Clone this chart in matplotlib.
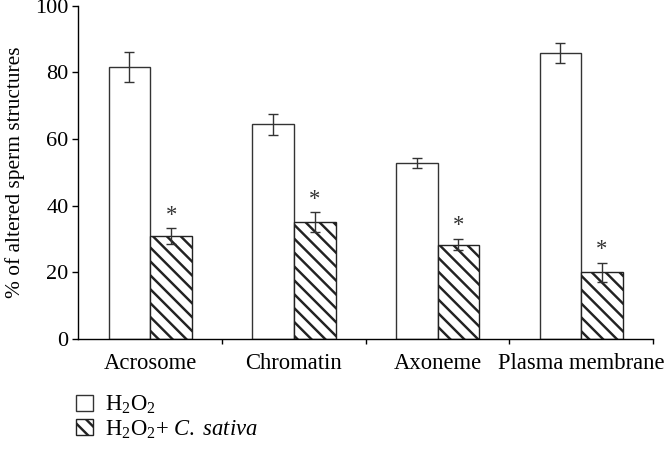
import numpy as np
import matplotlib
matplotlib.use("Agg")
import matplotlib.pyplot as plt
from matplotlib.patches import Patch

# %%
categories = ["Acrosome", "Chromatin", "Axoneme", "Plasma membrane"]
h2o2 = [81.7, 64.4, 52.7, 85.8]
h2o2_err = [4.5, 3.1, 1.5, 3.0]
sativa = [30.9, 35.0, 28.3, 20.0]
sativa_err = [2.3, 3.0, 1.7, 2.9]
labels = [r"H$_2$O$_2$", r"H$_2$O$_2$+ $\mathit{C.\ sativa}$"]

plt.rcParams["font.family"] = "Liberation Serif"
plt.rcParams["mathtext.fontset"] = "custom"
plt.rcParams["mathtext.rm"] = "Liberation Serif"
plt.rcParams["mathtext.it"] = "Liberation Serif:italic"
plt.rcParams["hatch.linewidth"] = 1.4
plt.rcParams["axes.linewidth"] = 0.8

# %%
# dpi 125 so the hatch cell gives about 7 px stripe spacing
fig = plt.figure(figsize=(5.32, 3.6), dpi=125)
ax = fig.add_axes([0.118, 0.247, 0.864, 0.74])

x = np.arange(len(categories))
w = 0.29
ax.bar(x - w / 2, h2o2, w, color="white", edgecolor="#333333", linewidth=0.8, zorder=2)
ax.bar(x + w / 2, sativa, w, color="white", edgecolor="#222222", hatch="\\\\\\", linewidth=0.8, zorder=2)
ax.errorbar(x - w / 2, h2o2, yerr=h2o2_err, fmt="none", ecolor="#333333", elinewidth=0.8, capsize=2.8, capthick=0.8, zorder=3)
ax.errorbar(x + w / 2, sativa, yerr=sativa_err, fmt="none", ecolor="#333333", elinewidth=0.8, capsize=2.8, capthick=0.8, zorder=3)

# asterisks over treated bars
for xi, v, e in zip(x, sativa, sativa_err):
    ax.text(xi + w / 2, v + e + 0.8, "*", ha="center", va="bottom", fontsize=13, color="#333333")

ax.set_xlim(-0.5, 3.5)
ax.set_ylim(0, 100)
ax.set_yticks([0, 20, 40, 60, 80, 100])
ax.set_xticks([0.5, 1.5, 2.5, 3.5])
ax.set_xticklabels([])
ax.set_xticks(x, minor=True)
ax.set_xticklabels(categories, minor=True)
ax.tick_params(axis="x", which="minor", length=0, pad=8, labelsize=13)
ax.tick_params(axis="x", which="major", length=3, width=0.8, direction="out")
ax.tick_params(axis="y", length=3.2, width=0.8, direction="out", labelsize=12.8, pad=2.5)
ax.spines["top"].set_visible(False)
ax.spines["right"].set_visible(False)
ax.set_ylabel("% of altered sperm structures", fontsize=12.3, labelpad=6)

handles = [Patch(facecolor="white", edgecolor="#333333", linewidth=0.8),
           Patch(facecolor="white", edgecolor="#222222", hatch="\\\\\\", linewidth=0.8)]
fig.legend(handles, labels, loc="upper left", bbox_to_anchor=(0.115, 0.125), frameon=False,
           fontsize=13, handlelength=0.72, handleheight=0.72, handletextpad=0.55, labelspacing=0.1,
           borderaxespad=0, borderpad=0)

fig.savefig("out.png", dpi=125)
